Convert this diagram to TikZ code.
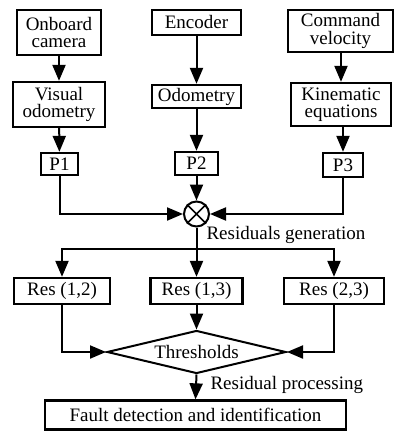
\documentclass[tikz,border=0pt]{standalone}
\usepackage{fontspec}
\setmainfont{Liberation Serif}
\usetikzlibrary{arrows.meta,shapes.geometric}
\begin{document}
\begin{tikzpicture}[x=1pt,y=-1pt,
  every node/.style={font=\fontsize{19}{17.5}\selectfont},
  blk/.style={draw,line width=2.3pt,rectangle,inner sep=0pt,align=center},
  conn/.style={line width=2pt,-{Triangle[length=16pt,width=13pt]}},
  plain/.style={line width=2pt}]
\useasboundingbox (0,0) rectangle (396,431);
\node[blk,minimum width=84pt,minimum height=45pt] (cam) at (59,32.5) {Onboard\\camera};
\node[blk,minimum width=92pt,minimum height=45pt] (vo) at (59,104.5) {Visual\\odometry};
\node[blk,minimum width=37pt,minimum height=22pt] (p1) at (59.5,164) {P1};
\node[blk,minimum width=89pt,minimum height=25pt] (enc) at (196.5,22.5) {Encoder};
\node[blk,minimum width=89pt,minimum height=23pt] (odo) at (196.5,96.5) {Odometry};
\node[blk,minimum width=43pt,minimum height=23pt] (p2) at (196.5,163.5) {P2};
\node[blk,minimum width=105pt,minimum height=42pt] (cmd) at (340.5,31) {Command\\velocity};
\node[blk,minimum width=100pt,minimum height=43pt] (kin) at (341,104.5) {Kinematic\\equations};
\node[blk,minimum width=40pt,minimum height=24pt] (p3) at (343,165) {P3};
\node[draw,circle,line width=2pt,minimum size=25pt,inner sep=0pt] (sum) at (196.5,214) {};
\draw[line width=1.6pt] (sum.north west) -- (sum.south east) (sum.north east) -- (sum.south west);
\node[anchor=west] (lgen) at (203,235) {Residuals generation};
\coordinate (split) at (196.5,249);
\node[blk,minimum width=96pt,minimum height=26pt] (r12) at (62,291) {Res (1,2)};
\node[blk,minimum width=92pt,minimum height=26pt] (r13) at (196.5,291) {Res (1,3)};
\node[blk,minimum width=100pt,minimum height=26pt] (r23) at (334,291) {Res (2,3)};
\node[draw,diamond,line width=2pt,inner sep=0pt,minimum width=179pt,minimum height=43pt,aspect=4.16] (thr) at (196.5,352) {Thresholds};
\node[anchor=west] (lproc) at (207,385) {Residual processing};
\node[blk,minimum width=301pt,minimum height=29pt] (fdi) at (195.5,415) {Fault detection and identification};
\draw[conn] (cam) -- (vo);
\draw[conn] (vo) -- (p1);
\draw[conn] (enc) -- (odo);
\draw[conn] (odo) -- (p2);
\draw[conn] (cmd.south -| kin.north) -- (kin.north);
\draw[conn] (kin.south -| p3.north) -- (p3.north);
\draw[conn] (p1.south) |- (sum.west);
\draw[conn] (p2.south -| sum.north) -- (sum.north);
\draw[conn] (p3.south) |- (sum.east);
\draw[plain] (sum.south) -- (split);
\draw[conn] (split) -| (r12.north);
\draw[conn] (split) -- (r13.north);
\draw[conn] (split) -| (r23.north);
\draw[conn] (r12.south) |- (thr.west);
\draw[conn] (r13.south) -- (thr.north);
\draw[conn] (r23.south) |- (thr.east);
\draw[conn] (thr.south) -- (fdi.north);
\end{tikzpicture}
\end{document}
